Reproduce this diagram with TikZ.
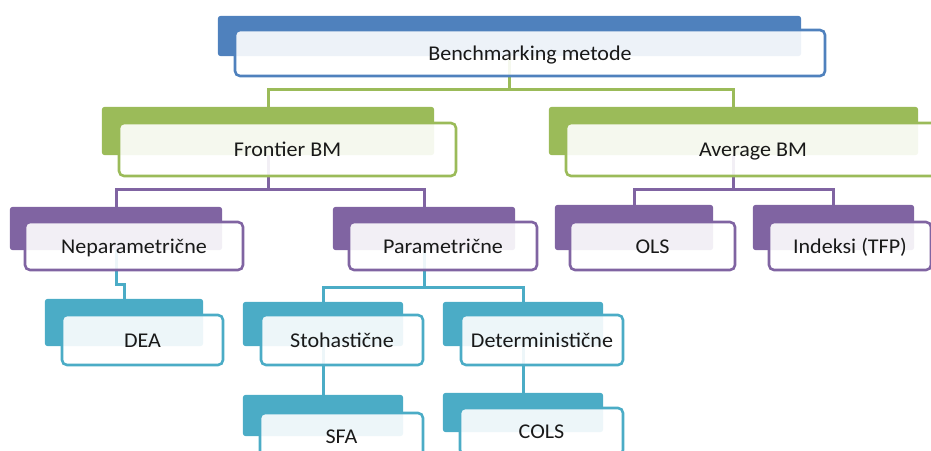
\documentclass[tikz,border=0pt]{standalone}
\usepackage{fontspec}
\setmainfont{Carlito}[FakeStretch=1.05]
\definecolor{cblue}{HTML}{4F81BD}
\definecolor{cgreen}{HTML}{9BBB59}
\definecolor{cpurple}{HTML}{8064A2}
\definecolor{cteal}{HTML}{4BACC6}
\tikzset{
  back/.style={fill=#1, draw=none, rounded corners=3pt, inner sep=0pt},
  front/.style={draw=#1, line width=2.6pt, fill=white, fill opacity=0.9, text opacity=1,
                rounded corners=5pt, inner sep=0pt, text=black!90,
                text height=14pt, text depth=0pt,
                font=\fontsize{21}{24}\selectfont},
  link/.style={draw=#1, line width=3pt},
}
\begin{document}
\begin{tikzpicture}[x=1pt,y=-1pt]
\useasboundingbox (0,0) rectangle (931,450);
\clip (0,0) rectangle (931,450);

% heights of the horizontal bars of the connectors
\coordinate (barA) at (0,89);
\coordinate (barB) at (0,189);
\coordinate (barC) at (0,287);
\coordinate (barD) at (0,284);

% back plates (named first, painted later over the connectors)
\path
  node[minimum width=583pt, minimum height=40pt, inner sep=0pt] (bktop) at (509.5,36) {}
  node[minimum width=332pt, minimum height=48pt, inner sep=0pt] (bkfro) at (268,131) {}
  node[minimum width=369pt, minimum height=48pt, inner sep=0pt] (bkavg) at (733.5,131) {}
  node[minimum width=212pt, minimum height=43pt, inner sep=0pt] (bknep) at (116,228.5) {}
  node[minimum width=182pt, minimum height=43pt, inner sep=0pt] (bkpar) at (424,228.5) {}
  node[minimum width=158pt, minimum height=45pt, inner sep=0pt] (bkols) at (634,227.5) {}
  node[minimum width=161pt, minimum height=45pt, inner sep=0pt] (bkind) at (833.5,227.5) {}
  node[minimum width=158pt, minimum height=47pt, inner sep=0pt] (bkdea) at (124,322.5) {}
  node[minimum width=160pt, minimum height=44pt, inner sep=0pt] (bksto) at (323,324) {}
  node[minimum width=160pt, minimum height=44pt, inner sep=0pt] (bkdet) at (523,324) {}
  node[minimum width=160pt, minimum height=41pt, inner sep=0pt] (bksfa) at (323,415.5) {}
  node[minimum width=160pt, minimum height=39pt, inner sep=0pt] (bkcol) at (523,412.5) {};

% connectors
\draw[link=cgreen] (bktop.center) -- (bktop.center |- barA) -| (bkfro.center);
\draw[link=cgreen] (bktop.center |- barA) -| (bkavg.center);
\draw[link=cpurple] (bkfro.center) -- (bkfro.center |- barB) -| (bknep.center);
\draw[link=cpurple] (bkfro.center |- barB) -| (bkpar.center);
\draw[link=cpurple] (bkavg.center) -- (bkavg.center |- barB) -| (bkols.center);
\draw[link=cpurple] (bkavg.center |- barB) -| (bkind.center);
\draw[link=cteal] (bknep.center) -- (bknep.center |- barD) -| (bkdea.center);
\draw[link=cteal] (bkpar.center) -- (bkpar.center |- barC) -| (bksto.center);
\draw[link=cteal] (bkpar.center |- barC) -| (bkdet.center);
\draw[link=cteal] (bksto.center) -- (bksfa.center);
\draw[link=cteal] (bkdet.center) -- (bkcol.center);

% painted back plates
\foreach \n/\c in {top/cblue, fro/cgreen, avg/cgreen, nep/cpurple, par/cpurple,
                   ols/cpurple, ind/cpurple, dea/cteal, sto/cteal, det/cteal,
                   sfa/cteal, col/cteal}
  \fill[\c, rounded corners=3pt] (bk\n.south west) rectangle (bk\n.north east);

% front boxes with labels
\node[front=cblue,   minimum width=590pt, minimum height=46pt] (frtop) at (530,53) {Benchmarking metode};
\node[front=cgreen,  minimum width=337pt, minimum height=53pt] (frfro) at (287.5,149.5) {Frontier BM};
\node[front=cgreen,  minimum width=374pt, minimum height=53pt] (fravg) at (753,149.5) {Average BM};
\node[front=cpurple, minimum width=218pt, minimum height=48pt] (frnep) at (134,246) {Neparametrične};
\node[front=cpurple, minimum width=188pt, minimum height=48pt] (frpar) at (443,246) {Parametrične};
\node[front=cpurple, minimum width=165pt, minimum height=48pt] (frols) at (652.5,246) {OLS};
\node[front=cpurple, minimum width=162pt, minimum height=48pt] (frind) at (850,246) {Indeksi (TFP)};
\node[front=cteal,   minimum width=161pt, minimum height=50pt] (frdea) at (142.5,340) {DEA};
\node[front=cteal,   minimum width=162pt, minimum height=50pt] (frsto) at (342,340) {Stohastične};
\node[front=cteal,   minimum width=162pt, minimum height=50pt] (frdet) at (542,340) {Deterministične};
\node[front=cteal,   minimum width=163pt, minimum height=47pt] (frsfa) at (341.5,436.5) {SFA};
\node[front=cteal,   minimum width=163pt, minimum height=47pt] (frcol) at (541.5,431.5) {COLS};
\end{tikzpicture}
\end{document}
